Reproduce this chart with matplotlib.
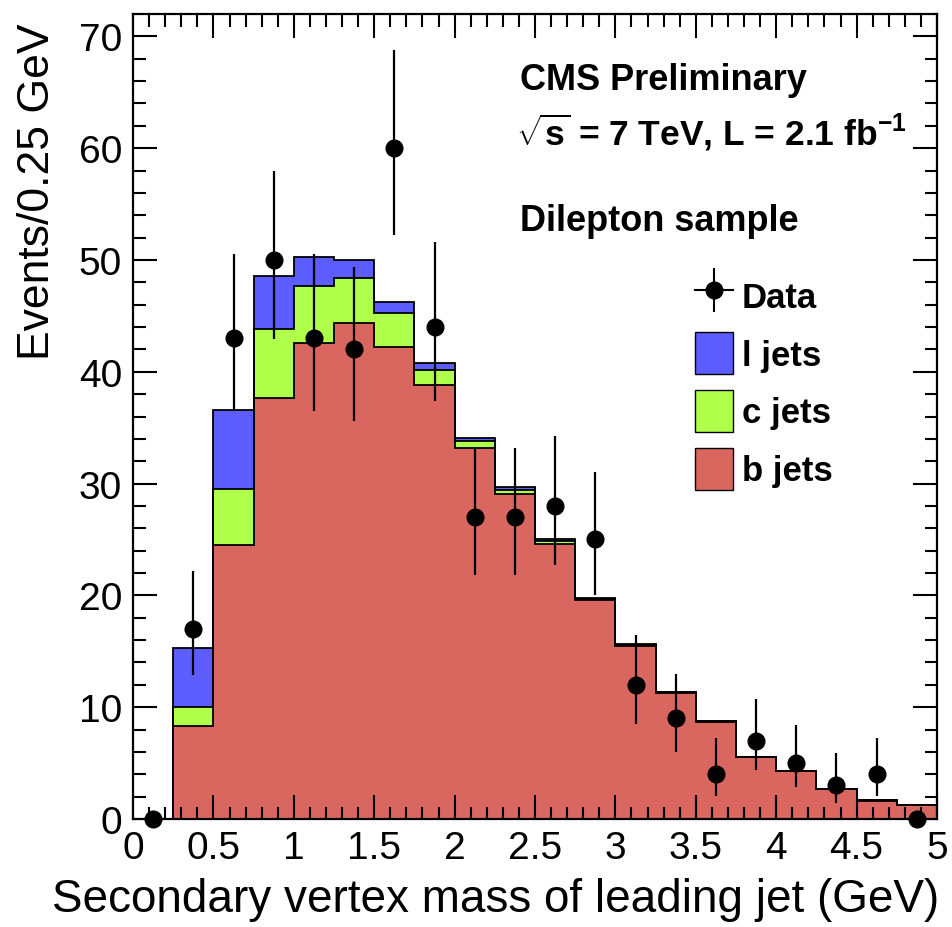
import numpy as np
import matplotlib.pyplot as plt
from matplotlib.lines import Line2D
from matplotlib.patches import Patch

plt.rcParams['font.family'] = ['Liberation Sans', 'DejaVu Sans']
plt.rcParams['mathtext.fontset'] = 'custom'
plt.rcParams['mathtext.rm'] = 'Liberation Sans:bold'
plt.rcParams['mathtext.bf'] = 'Liberation Sans:bold'

# bin edges (GeV), 0.25 GeV wide
edges = np.arange(0, 5.001, 0.25)
centers = edges[:-1] + 0.125

# data counts and error bar ends
data = [0, 17, 43, 50, 43, 42, 60, 44, 27, 27, 28, 25, 12, 9, 4, 7, 5, 3, 4, 0]
data_lo = [0, 12.9, 36.5, 42.9, 36.5, 35.6, 52.2, 37.4, 21.8, 21.8, 22.7, 20.0,
           8.5, 6.0, 2.1, 4.4, 2.9, 1.4, 2.1, 0]
data_hi = [0, 22.2, 50.5, 58.0, 50.5, 49.4, 68.8, 51.6, 33.2, 33.2, 34.3, 31.0,
           16.5, 13.0, 7.2, 10.7, 8.4, 5.9, 7.2, 0]

# simulation, per flavour
b_jets = [0, 8.3, 24.5, 37.7, 42.6, 44.4, 42.2, 38.8, 33.2, 29.1, 24.6, 19.6,
          15.5, 11.3, 8.7, 5.5, 4.25, 2.65, 1.65, 1.25]
c_jets = [0, 1.7, 5.0, 6.1, 5.1, 4.0, 3.1, 1.4, 0.6, 0.35, 0.3, 0.1,
          0.08, 0.05, 0.04, 0.03, 0.03, 0.02, 0.02, 0.01]
l_jets = [0, 5.3, 7.1, 4.8, 2.6, 1.6, 0.9, 0.6, 0.3, 0.25, 0.15, 0.1,
          0.07, 0.05, 0.04, 0.03, 0.02, 0.02, 0.01, 0.01]

col_b = '#d9675f'
col_c = '#afff4b'
col_l = '#5c5cff'

fig = plt.figure(figsize=(9.53, 9.28), dpi=100)
ax = fig.add_axes([0.1396, 0.1164, 0.8436, 0.8674])

lev_b = np.array(b_jets)
lev_c = lev_b + np.array(c_jets)
lev_l = lev_c + np.array(l_jets)

# stacked histograms, drawn top level first
for lev, col in [(lev_l, col_l), (lev_c, col_c), (lev_b, col_b)]:
    ax.stairs(lev, edges, baseline=0, fill=True, color=col, zorder=1)
for lev in [lev_l, lev_c, lev_b]:
    ax.stairs(lev, edges, baseline=0, fill=False, color='black', lw=1.3, zorder=2)

data = np.array(data)
yerr = [data - np.array(data_lo), np.array(data_hi) - data]
ax.errorbar(centers, data, yerr=yerr, fmt='o', color='black', ms=12,
            elinewidth=1.6, capsize=0, zorder=5, clip_on=False)

ax.set_xlim(0, 5)
ax.set_ylim(0, 72)
ax.set_xticks(np.arange(0, 5.01, 0.5))
ax.set_xticklabels(['%g' % v for v in np.arange(0, 5.01, 0.5)])
ax.set_xticks(np.arange(0, 5.01, 0.1), minor=True)
ax.set_yticks(np.arange(0, 71, 10))
ax.set_yticks(np.arange(0, 72, 2), minor=True)
ax.tick_params(which='both', direction='in', top=True, right=True,
               labelsize=28, width=1.5)
ax.tick_params(which='major', length=17)
ax.tick_params(which='minor', length=9)
ax.tick_params(axis='y', pad=8)
ax.tick_params(axis='x', pad=8)
for s in ax.spines.values():
    s.set_linewidth(1.6)

ax.set_xlabel('Secondary vertex mass of leading jet (GeV)', fontsize=33, loc='right')
ax.set_ylabel('Events/0.25 GeV', fontsize=32, loc='top')
ax.yaxis.set_label_coords(-0.093, 0.99)
ax.xaxis.set_label_coords(1.003, -0.072)

ax.text(0.481, 0.94, 'CMS Preliminary', transform=ax.transAxes,
        fontsize=26, fontweight='bold', va='top')
ax.text(0.476, 0.88, r'$\sqrt{\mathbf{s}}$ = 7 TeV, L = 2.1 fb$^{\mathbf{-1}}$',
        transform=ax.transAxes, fontsize=25.5, fontweight='bold', va='top')
ax.text(0.481, 0.765, 'Dilepton sample', transform=ax.transAxes,
        fontsize=26, fontweight='bold', va='top')

h_data = (Line2D([0], [0], color='black', marker='o', ms=12, lw=1.5),
          Line2D([0], [0], color='black', marker='|', ms=32, mew=1.5, ls='none'))
handles = [h_data,
           Patch(facecolor=col_l, edgecolor='black', lw=1),
           Patch(facecolor=col_c, edgecolor='black', lw=1),
           Patch(facecolor=col_b, edgecolor='black', lw=1)]
leg = ax.legend(handles, ['Data', 'l jets', 'c jets', 'b jets'],
                loc='upper left', bbox_to_anchor=(0.66, 0.716), frameon=False,
                prop={'weight': 'bold', 'size': 25},
                handlelength=1.1, handleheight=1.5, handletextpad=0.25,
                labelspacing=0.45)

fig.savefig('out.png', dpi=100)
